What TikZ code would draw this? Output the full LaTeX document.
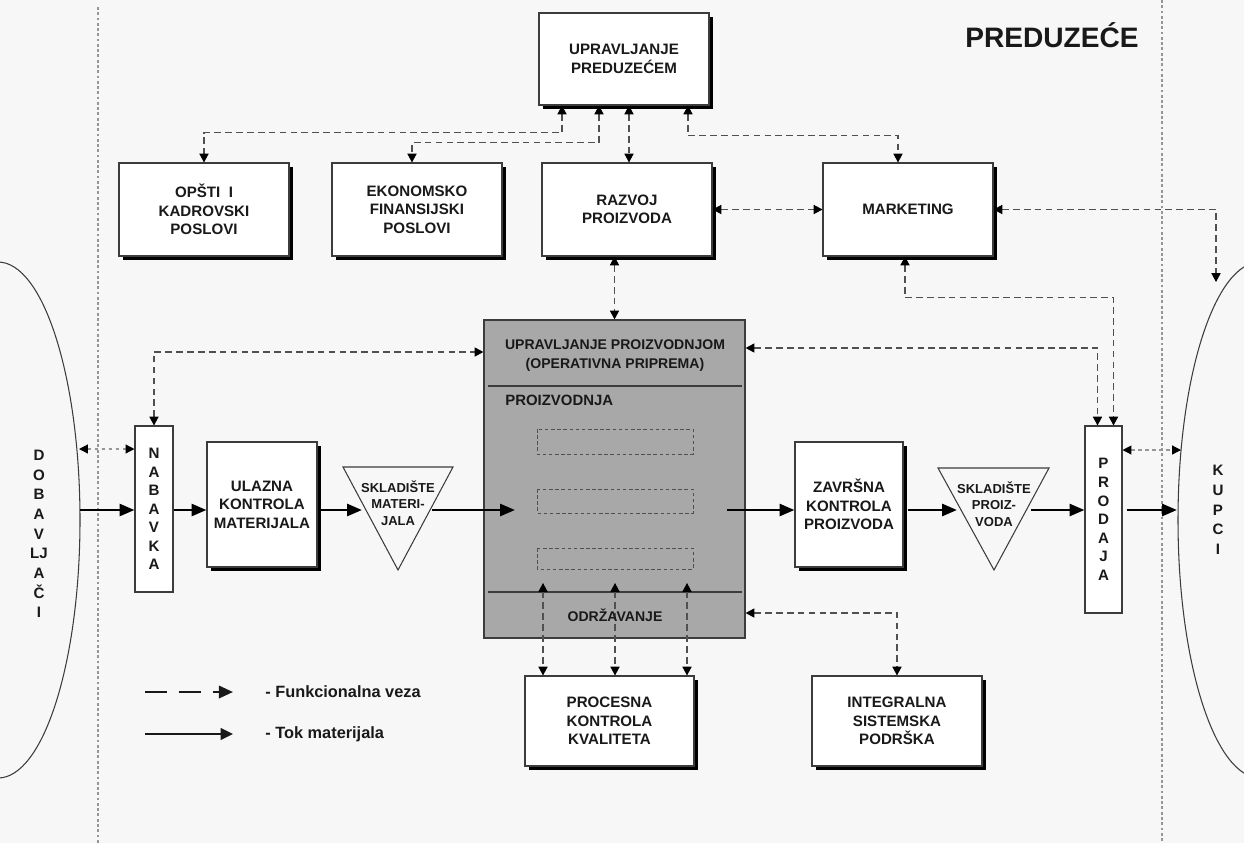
\documentclass[tikz,border=0pt]{standalone}
\usepackage{fontspec}
\setmainfont{Liberation Sans}
\usetikzlibrary{arrows.meta,shadows}
\newlength\upx
\setlength\upx{0.02cm}
\definecolor{bg}{RGB}{247,247,247}
\definecolor{ink}{RGB}{25,25,25}
\definecolor{edge}{RGB}{60,60,60}
\definecolor{link}{RGB}{80,80,80}
\definecolor{faint}{RGB}{150,150,150}
\definecolor{prodfill}{RGB}{168,168,168}
\tikzset{
  boxtxt/.style={font=\fontsize{8.6}{10.5}\selectfont\bfseries, text=ink, align=center},
  fbox/.style={boxtxt, draw=edge, line width=0.6pt, fill=white, inner sep=0pt,
    general shadow={fill=black, shadow xshift=2pt, shadow yshift=-2pt}},
  tallbox/.style={draw=edge, line width=0.6pt, fill=white, inner sep=0pt, align=center,
    text=ink, font=\fontsize{8.6}{10.6}\selectfont\bfseries},
  func/.style={draw=link, line width=0.6pt, dash pattern=on 3.8pt off 2.4pt, <->,
    >={Triangle[length=5pt,width=5.2pt,color=black]}},
  faintlink/.style={draw=faint, line width=0.7pt, dash pattern=on 2.2pt off 1.8pt, <->,
    >={Triangle[length=5pt,width=5pt,color=black]}},
  flow/.style={draw=black, line width=1.6pt, -{Triangle[length=8.5pt,width=6.8pt]}},
  tri/.style={draw=edge, line width=0.6pt},
  tritxt/.style={font=\fontsize{7.4}{9.4}\selectfont\bfseries, text=ink, align=center},
  sidetxt/.style={font=\fontsize{8.6}{11.2}\selectfont\bfseries, text=ink, align=center},
  legtxt/.style={font=\fontsize{9.3}{11}\selectfont\bfseries, text=ink, anchor=west, inner sep=0pt},
  border/.style={draw=faint, line width=0.8pt, dash pattern=on 1.6pt off 1.4pt},
}
\begin{document}
\begin{tikzpicture}[x=0.02cm, y=-0.02cm]
\useasboundingbox (0,0) rectangle (1244,843);
\clip (0,0) rectangle (1244,843);
\fill[bg] (0,0) rectangle (1244,843);

% enterprise borders
\draw[border] (98,7) -- (98,843);
\draw[border] (1162,0) -- (1162,843);

% suppliers and customers
\draw[edge, line width=0.6pt] (-2,520) ellipse [x radius=82, y radius=258];
\draw[edge, line width=0.6pt] (1260,520) ellipse [x radius=82, y radius=258];
\node[sidetxt] (dob) at (39,534) {D\\O\\B\\A\\V\\LJ\\A\\Č\\I};
\node[sidetxt] (kup) at (1218,510) {K\\U\\P\\C\\I};

\node[font=\fontsize{16}{18}\selectfont\bfseries, text=ink] (title) at (1052,35) {PREDUZEĆE};

% management and support functions
\node[fbox, minimum width=170\upx, minimum height=92\upx] (upr) at (624,59) {UPRAVLJANJE\\PREDUZEĆEM};
\node[fbox, minimum width=170\upx, minimum height=93\upx] (opsti) at (204,209.5) {OPŠTI \ I\\KADROVSKI\\POSLOVI};
\node[fbox, minimum width=170\upx, minimum height=93\upx] (ekon) at (417,209.5) {EKONOMSKO\\FINANSIJSKI\\POSLOVI};
\node[fbox, minimum width=170\upx, minimum height=93\upx] (razvoj) at (627,209.5) {RAZVOJ\\PROIZVODA};
\node[fbox, minimum width=170\upx, minimum height=93\upx] (mark) at (908,209.5) {MARKETING};

% production block
\node[draw=edge, line width=0.7pt, fill=prodfill, minimum width=261\upx, minimum height=318\upx, inner sep=0pt] (prod) at (614.5,479) {};
\node[font=\fontsize{8}{10.8}\selectfont\bfseries, text=ink, align=center] (pupr) at (615,356) {UPRAVLJANJE PROIZVODNJOM\\(OPERATIVNA PRIPREMA)};
\draw[edge, line width=0.7pt] (488,386) -- (742,386);
\draw[edge, line width=0.7pt] (488,592) -- (742,592);
\node[font=\fontsize{8.5}{10}\selectfont\bfseries, text=ink, anchor=west, inner sep=0pt] (pproiz) at (505,400) {PROIZVODNJA};
\foreach \ya/\yb in {429/454, 489/513, 548/569}
  \draw[draw=link, line width=0.5pt, dash pattern=on 2pt off 1.5pt] (537,\ya) rectangle (693,\yb);

% material flow chain
\node[tallbox, minimum width=38\upx, minimum height=166\upx, font=\fontsize{8.6}{10.5}\selectfont\bfseries] (nab) at (154,509) {N\\A\\B\\A\\V\\K\\A};
\node[fbox, minimum width=110\upx, minimum height=125\upx] (ulaz) at (262,504.5) {ULAZNA\\KONTROLA\\MATERIJALA};
\draw[tri] (343,467) -- (453,467) -- (398,570) -- cycle;
\node[tritxt] (sklm) at (398,503) {SKLADIŠTE\\MATERI-\\JALA};
\node[fbox, minimum width=108\upx, minimum height=125\upx] (zavr) at (849,504.5) {ZAVRŠNA\\KONTROLA\\PROIZVODA};
\draw[tri] (938,468) -- (1049,468) -- (994,570) -- cycle;
\node[tritxt] (sklp) at (994,504) {SKLADIŠTE\\PROIZ-\\VODA};
\node[tallbox, minimum width=37\upx, minimum height=187\upx] (prodaja) at (1103.5,519.5) {P\\R\\O\\D\\A\\J\\A};

% lower boxes
\node[fbox, minimum width=169\upx, minimum height=90\upx] (proc) at (609.5,721) {PROCESNA\\KONTROLA\\KVALITETA};
\node[fbox, minimum width=170\upx, minimum height=90\upx] (integ) at (897,721) {INTEGRALNA\\SISTEMSKA\\PODRŠKA};

% reference points
\coordinate (flowy) at (0,510);
\coordinate (dobR) at (80,510);
\coordinate (smL) at (362,510);
\coordinate (smR) at (432,510);
\coordinate (prodIn) at (515,510);
\coordinate (prodOut) at (727,510);
\coordinate (spL) at (957,510);
\coordinate (spR) at (1031,510);
\coordinate (kupL) at (1177,510);
\coordinate (dobG) at (79,449);
\coordinate (kupG) at (1181,450);
\coordinate (kupTop) at (1216,282);
\coordinate (m1) at (543,583);
\coordinate (m2) at (615,583);
\coordinate (m3) at (687,583);

% functional links
\draw[func] ([xshift=-62\upx]upr.south) -- ++(0,27) -| (opsti.north);
\draw[func] ([xshift=-25\upx]upr.south) -- ++(0,37) -| ([xshift=-5\upx]ekon.north);
\draw[func] ([xshift=5\upx]upr.south) -- ([xshift=5\upx]upr.south |- razvoj.north);
\draw[func] ([xshift=64\upx]upr.south) -- ++(0,30) -| ([xshift=-10\upx]mark.north);
\draw[func] (razvoj.east) -- (mark.west);
\draw[func] (mark.east) -| (kupTop);
\draw[func] (prod.north |- razvoj.south) -- (prod.north);
\draw[func] (nab.north) |- ([yshift=127\upx]prod.west);
\draw[func] ([yshift=131\upx]prod.east) -| ([xshift=-6\upx]prodaja.north);
\draw[func] ([xshift=-3\upx]mark.south) -- ++(0,41) -| ([xshift=10\upx]prodaja.north);
\draw[func] ([yshift=-134\upx]prod.east) -| (integ.north);
\draw[func] (m1) -- (m1 |- proc.north);
\draw[func] (m2) -- (m2 |- proc.north);
\draw[func] (m3) -- (m3 |- proc.north);
\draw[faintlink] (dobG) -- (nab.west |- dobG);
\draw[faintlink] (prodaja.east |- kupG) -- (kupG);

% maintenance label, set over the links
\node[font=\fontsize{8}{10}\selectfont\bfseries, text=ink] (odrz) at (615,615) {ODRŽAVANJE};

% material flow
\draw[flow] (dobR) -- (nab.west |- flowy);
\draw[flow] (nab.east |- flowy) -- (ulaz.west |- flowy);
\draw[flow] (ulaz.east |- flowy) -- (smL);
\draw[flow] (smR) -- (prodIn);
\draw[flow] (prodOut) -- (zavr.west |- flowy);
\draw[flow, shorten <=4\upx] (zavr.east |- flowy) -- (spL);
\draw[flow] (spR) -- (prodaja.west |- flowy);
\draw[flow, shorten <=4\upx] (prodaja.east |- flowy) -- (kupL);

% legend
\node[legtxt] (leg1) at (265,692) {- Funkcionalna veza};
\node[legtxt] (leg2) at (265,734) {- Tok materijala};
\coordinate (l1s) at (145,692);
\coordinate (l2s) at (145,734);
\draw[draw=ink, line width=1.4pt, dash pattern=on 12.5pt off 6.8pt, -{Triangle[length=8pt,width=7pt]}] (l1s) -- ([xshift=-32\upx]leg1.west);
\draw[draw=ink, line width=1.4pt, -{Triangle[length=7pt,width=6.5pt]}] (l2s) -- ([xshift=-32\upx]leg2.west);
\end{tikzpicture}
\end{document}
